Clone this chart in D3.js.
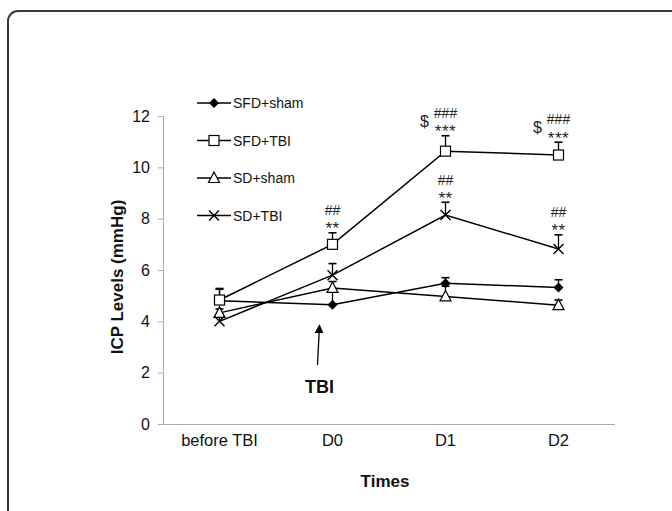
<!DOCTYPE html>
<html><head><meta charset="utf-8">
<script src="https://cdn.jsdelivr.net/npm/d3@7"></script>
<style>body{margin:0;background:#fff}svg{display:block;font-family:"Liberation Sans",Arial,sans-serif}</style>
</head><body><svg id="c" width="672" height="511"></svg>
<script>
const categories = ["before TBI", "D0", "D1", "D2"];
const seriesNames = ["SFD+sham", "SFD+TBI", "SD+sham", "SD+TBI"];
const sfdSham = [4.8, 4.65, 5.48, 5.32];
const sfdShamErr = [0.45, 0.5, 0.22, 0.3];
const sfdTbi = [4.83, 7.0, 10.63, 10.48];
const sfdTbiErr = [0.45, 0.45, 0.6, 0.5];
const sdSham = [4.33, 5.3, 4.97, 4.63];
const sdShamErr = [0.15, 0.25, 0.4, 0.2];
const sdTbi = [4.0, 5.8, 8.14, 6.82];
const sdTbiErr = [0.2, 0.45, 0.5, 0.55];
const yTicks = [0, 2, 4, 6, 8, 10, 12];
// significance labels: [series index, category index, upper line, lower line]
const annotations = [
  [1, 1, "##", "**"],
  [1, 2, "$###", "***"],
  [1, 3, "$###", "***"],
  [3, 2, "##", "**"],
  [3, 3, "##", "**"]
];
const yTitle = "ICP Levels (mmHg)";
const xTitle = "Times";
const arrowLabel = "TBI";

const FONT = "Liberation Sans, Arial, sans-serif";
const svg = d3.select("#c");
const values = [sfdSham, sfdTbi, sdSham, sdTbi];
const errs = [sfdShamErr, sfdTbiErr, sdShamErr, sdTbiErr];
const markers = ["diamond", "square", "triangle", "cross"];

// frame
svg.append("rect").attr("x", 8).attr("y", 11).attr("width", 700).attr("height", 540)
  .attr("rx", 10).attr("fill", "none").attr("stroke", "#3a3a3a").attr("stroke-width", 2);

const x = d3.scaleBand().domain(categories).range([163, 615]).padding(0);
const cx = c => x(c) + x.bandwidth() / 2;
const y = d3.scaleLinear().domain([0, 12]).range([424, 116]);

// axes
const yAxis = svg.append("g").attr("transform", "translate(163,0)")
  .call(d3.axisLeft(y).tickValues(yTicks).tickSize(5).tickPadding(8));
yAxis.attr("font-family", FONT);
yAxis.select(".domain").attr("stroke", "#aaa");
yAxis.selectAll(".tick line").attr("stroke", "#aaa");
yAxis.selectAll(".tick text").attr("font-size", 16).attr("fill", "#111");

const xAxis = svg.append("g").attr("transform", "translate(0,424)")
  .call(d3.axisBottom(x).tickSize(0).tickPadding(10));
xAxis.attr("font-family", FONT);
xAxis.select(".domain").attr("stroke", "#aaa").attr("d", "M158,0.5H615");
xAxis.selectAll(".tick text").attr("font-size", 16.5).attr("fill", "#111");

svg.append("text").attr("transform", "translate(123,277) rotate(-90)")
  .attr("text-anchor", "middle").attr("font-weight", "bold").attr("font-size", 17)
  .attr("fill", "#111").text(yTitle);
svg.append("text").attr("x", 385).attr("y", 487).attr("text-anchor", "middle")
  .attr("font-weight", "bold").attr("font-size", 17).attr("fill", "#111").text(xTitle);

function drawMarker(g, type, px, py) {
  if (type === "diamond") {
    g.append("path").attr("d", `M${px},${py-5}L${px+5},${py}L${px},${py+5}L${px-5},${py}Z`).attr("fill", "#000");
  } else if (type === "square") {
    g.append("rect").attr("x", px-5).attr("y", py-5).attr("width", 10).attr("height", 10)
      .attr("fill", "#fff").attr("stroke", "#000").attr("stroke-width", 1.2);
  } else if (type === "triangle") {
    g.append("path").attr("d", `M${px},${py-6}L${px+5.5},${py+4.5}L${px-5.5},${py+4.5}Z`)
      .attr("fill", "#fff").attr("stroke", "#000").attr("stroke-width", 1.2);
  } else {
    g.append("path").attr("d", `M${px-5},${py-5}L${px+5},${py+5}M${px+5},${py-5}L${px-5},${py+5}`)
      .attr("stroke", "#000").attr("stroke-width", 1.4).attr("fill", "none");
  }
}

const line = d3.line().x((d, i) => cx(categories[i])).y(d => y(d));
values.forEach((vals, s) => {
  const g = svg.append("g");
  vals.forEach((v, i) => {
    const px = cx(categories[i]);
    g.append("line").attr("x1", px).attr("x2", px).attr("y1", y(v)).attr("y2", y(v + errs[s][i]))
      .attr("stroke", "#000").attr("stroke-width", 1.3);
    g.append("line").attr("x1", px - 4).attr("x2", px + 4).attr("y1", y(v + errs[s][i])).attr("y2", y(v + errs[s][i]))
      .attr("stroke", "#000").attr("stroke-width", 1.6);
  });
  g.append("path").attr("d", line(vals)).attr("fill", "none").attr("stroke", "#000").attr("stroke-width", 1.5);
});
values.forEach((vals, s) => {
  const g = svg.append("g");
  vals.forEach((v, i) => drawMarker(g, markers[s], cx(categories[i]), y(v)));
});

// annotations
annotations.forEach(([s, i, top, bot]) => {
  const px = cx(categories[i]);
  const ty = y(values[s][i] + errs[s][i]);
  const g = svg.append("g").attr("fill", "#222").attr("font-family", FONT);
  g.append("text").attr("x", px).attr("y", ty + 1.5).attr("text-anchor", "middle")
    .attr("font-size", 17).attr("letter-spacing", 0.5).text(bot);
  if (top.startsWith("$")) {
    g.append("text").attr("x", px).attr("y", ty - 18).attr("text-anchor", "middle")
      .attr("font-size", 14).text(top.slice(1));
    g.append("text").attr("x", px - 21).attr("y", ty - 9).attr("text-anchor", "middle")
      .attr("font-size", 16).text("$");
  } else {
    g.append("text").attr("x", px).attr("y", ty - 17.5).attr("text-anchor", "middle")
      .attr("font-size", 14).text(top);
  }
});

// TBI arrow
const ax = cx("D0") - 13;
svg.append("defs").append("marker").attr("id", "ah").attr("viewBox", "0 0 10 10")
  .attr("refX", 9).attr("refY", 5).attr("markerWidth", 9).attr("markerHeight", 9)
  .attr("orient", "auto").attr("markerUnits", "userSpaceOnUse")
  .append("path").attr("d", "M0,0L10,5L0,10Z").attr("fill", "#000");
svg.append("line").attr("x1", ax - 2).attr("y1", y(2.3)).attr("x2", ax).attr("y2", y(3.85))
  .attr("stroke", "#000").attr("stroke-width", 1.3).attr("marker-end", "url(#ah)");
svg.append("text").attr("x", ax).attr("y", y(1.2)).attr("text-anchor", "middle")
  .attr("font-weight", "bold").attr("font-size", 18).attr("fill", "#111").text(arrowLabel);

// legend
seriesNames.forEach((name, s) => {
  const ly = 103 + s * 37.5;
  const g = svg.append("g");
  g.append("line").attr("x1", 197).attr("x2", 231).attr("y1", ly).attr("y2", ly)
    .attr("stroke", "#000").attr("stroke-width", 1.5);
  drawMarker(g, markers[s], 214, ly);
  g.append("text").attr("x", 233).attr("y", ly + 5).attr("font-size", 14).attr("fill", "#111").text(name);
});
</script></body></html>
